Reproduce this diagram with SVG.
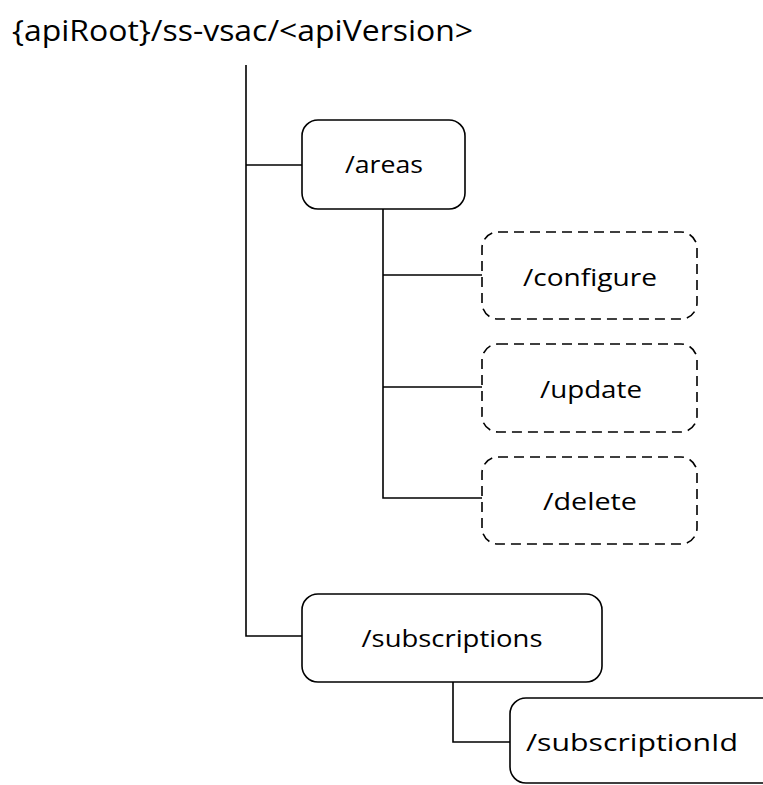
<svg xmlns="http://www.w3.org/2000/svg" width="763" height="785" viewBox="0 0 763 785">
<style>
.t{font-family:"Open Sans","Liberation Sans",sans-serif;fill:#000}
.b{fill:#fff;stroke:#000;stroke-width:1.6}
.d{fill:#fff;stroke:#000;stroke-width:1.6;stroke-dasharray:10 6}
.c{fill:none;stroke:#000;stroke-width:1.6}
</style>
<rect width="763" height="785" fill="#fff"/>
<text id="title" class="t" x="12" y="41" font-size="30" textLength="461" lengthAdjust="spacingAndGlyphs">{apiRoot}/ss-vsac/&lt;apiVersion&gt;</text>
<g id="connectors">
<path class="c" d="M246 65V636H302"/>
<path class="c" d="M246 165H302"/>
<path class="c" d="M383 209V498H482" stroke-width="2.2"/>
<path class="c" d="M383 275H482M383 387H482"/>
<path class="c" d="M453 682V742H510"/>
</g>
<g id="areas"><rect class="b" x="302" y="120" width="163" height="89" rx="16"/><text class="t" x="384" y="173" font-size="24" text-anchor="middle" textLength="78" lengthAdjust="spacingAndGlyphs">/areas</text></g>
<g id="configure"><rect class="d" x="482" y="232" width="215" height="87" rx="16"/><text class="t" x="590" y="286" font-size="24" text-anchor="middle" textLength="134" lengthAdjust="spacingAndGlyphs">/configure</text></g>
<g id="update"><rect class="d" x="482" y="344" width="215" height="88" rx="16"/><text class="t" x="591" y="398" font-size="24" text-anchor="middle" textLength="102" lengthAdjust="spacingAndGlyphs">/update</text></g>
<g id="delete"><rect class="d" x="482" y="457" width="215" height="87" rx="16"/><text class="t" x="590" y="510" font-size="24" text-anchor="middle" textLength="94" lengthAdjust="spacingAndGlyphs">/delete</text></g>
<g id="subscriptions"><rect class="b" x="302" y="594" width="300" height="88" rx="16"/><text class="t" x="452" y="647" font-size="24" text-anchor="middle" textLength="181" lengthAdjust="spacingAndGlyphs">/subscriptions</text></g>
<g id="subscriptionId"><rect class="b" x="510" y="698" width="280" height="85" rx="16"/><text class="t" x="632" y="751" font-size="24" text-anchor="middle" textLength="212" lengthAdjust="spacingAndGlyphs">/subscriptionId</text></g>
</svg>
